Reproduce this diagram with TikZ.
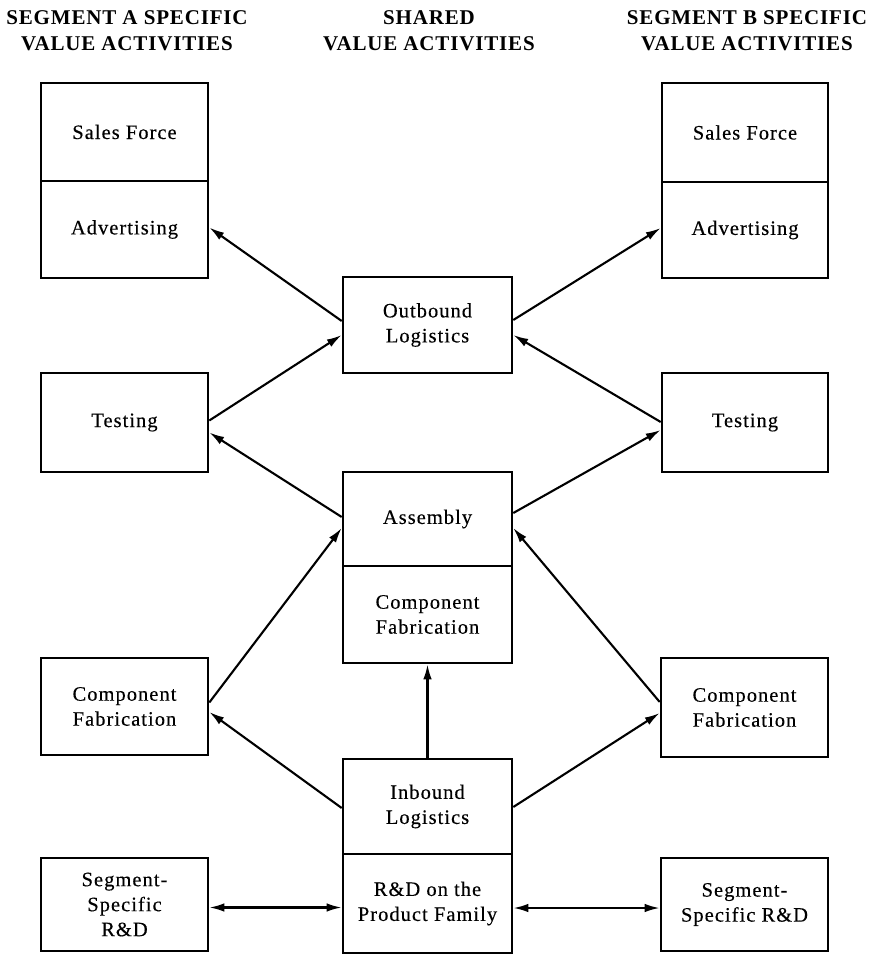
\documentclass[tikz,border=0pt]{standalone}
\usepackage{fontspec}
\setmainfont{Liberation Serif}
\usetikzlibrary{arrows.meta,calc}
\begin{document}
\begin{tikzpicture}[x=1pt,y=-1pt,
  box/.style={draw,line width=2.6pt,inner sep=0pt,align=center,
    font=\addfontfeature{LetterSpace=5,FakeBold=0.3}\fontsize{20.5}{25}\selectfont},
  hdr/.style={inner sep=0pt,align=center,
    font=\addfontfeature{LetterSpace=4}\fontsize{21}{26}\selectfont\bfseries},
  conn/.style={line width=2.1pt,-{Latex[length=15pt,width=8.5pt]}},
  dconn/.style={line width=2.1pt,{Latex[length=15pt,width=8.5pt]}-{Latex[length=15pt,width=8.5pt]}}
]
\useasboundingbox (0,0) rectangle (871,955);
% headers
\node[hdr] (hA) at (127,31) {SEGMENT A SPECIFIC\\VALUE ACTIVITIES};
\node[hdr] (hS) at (429,31) {SHARED\\VALUE ACTIVITIES};
\node[hdr] (hB) at (747,31) {SEGMENT B SPECIFIC\\VALUE ACTIVITIES};
% left column
\node[box,minimum width=167pt,minimum height=98pt] (aSF) at (124.5,132) {Sales Force};
\node[box,minimum width=167pt,minimum height=97pt] (aAd) at (124.5,229.5) {Advertising};
\node[box,minimum width=167pt,minimum height=99pt] (aTest) at (124.5,422.5) {Testing};
\node[box,minimum width=167pt,minimum height=97pt] (aCF) at (124.5,706.5) {Component\\Fabrication};
\node[box,minimum width=167pt,minimum height=93pt] (aRD) at (124.5,904.5) {Segment-\\Specific\\R\&D};
% center column
\node[box,minimum width=169pt,minimum height=96pt] (out) at (427.5,325) {Outbound\\Logistics};
\node[box,minimum width=169pt,minimum height=94pt] (asm) at (427.5,519) {Assembly};
\node[box,minimum width=169pt,minimum height=97pt] (cf) at (427.5,614.5) {Component\\Fabrication};
\node[box,minimum width=169pt,minimum height=95pt] (inb) at (427.5,806.5) {Inbound\\Logistics};
\node[box,minimum width=169pt,minimum height=99pt] (rd) at (427.5,903.5) {R\&D on the\\Product Family};
% right column
\node[box,minimum width=166pt,minimum height=99pt] (bSF) at (745,132.5) {Sales Force};
\node[box,minimum width=166pt,minimum height=96pt] (bAd) at (745,230) {Advertising};
\node[box,minimum width=166pt,minimum height=99pt] (bTest) at (745,422.5) {Testing};
\node[box,minimum width=167pt,minimum height=99pt] (bCF) at (744.5,707.5) {Component\\Fabrication};
\node[box,minimum width=167pt,minimum height=93pt] (bRD) at (744.5,904.5) {Segment-\\Specific R\&D};
% connectors left
\draw[conn] ($(out.west)+(0,-4)$) -- ($(aAd.east)+(0,-2)$);
\draw[conn] ($(aTest.east)+(0,-2)$) -- ($(out.west)+(0,10)$);
\draw[conn] ($(asm.west)+(0,-2)$) -- ($(aTest.east)+(0,10)$);
\draw[conn] ($(aCF.east)+(0,-4)$) -- ($(asm.west)+(0,9)$);
\draw[conn] ($(inb.west)+(0,1.5)$) -- ($(aCF.east)+(0,5.5)$);
\draw[conn] (inb.north) -- (cf.south);
\draw[dconn] ($(aRD.east)+(0,3)$) -- ($(rd.west)+(0,4)$);
% connectors right
\draw[conn] ($(out.east)+(0,-5)$) -- ($(bAd.west)+(0,-2)$);
\draw[conn] ($(bTest.west)+(0,-0.5)$) -- ($(out.east)+(0,10)$);
\draw[conn] ($(asm.east)+(0,-6)$) -- ($(bTest.west)+(0,7.5)$);
\draw[conn] ($(bCF.west)+(0,-5.5)$) -- ($(asm.east)+(0,9)$);
\draw[conn] ($(inb.east)+(0,0.5)$) -- ($(bCF.west)+(0,5.5)$);
\draw[dconn] ($(rd.east)+(0,4.5)$) -- ($(bRD.west)+(0,3.5)$);
\end{tikzpicture}
\end{document}
